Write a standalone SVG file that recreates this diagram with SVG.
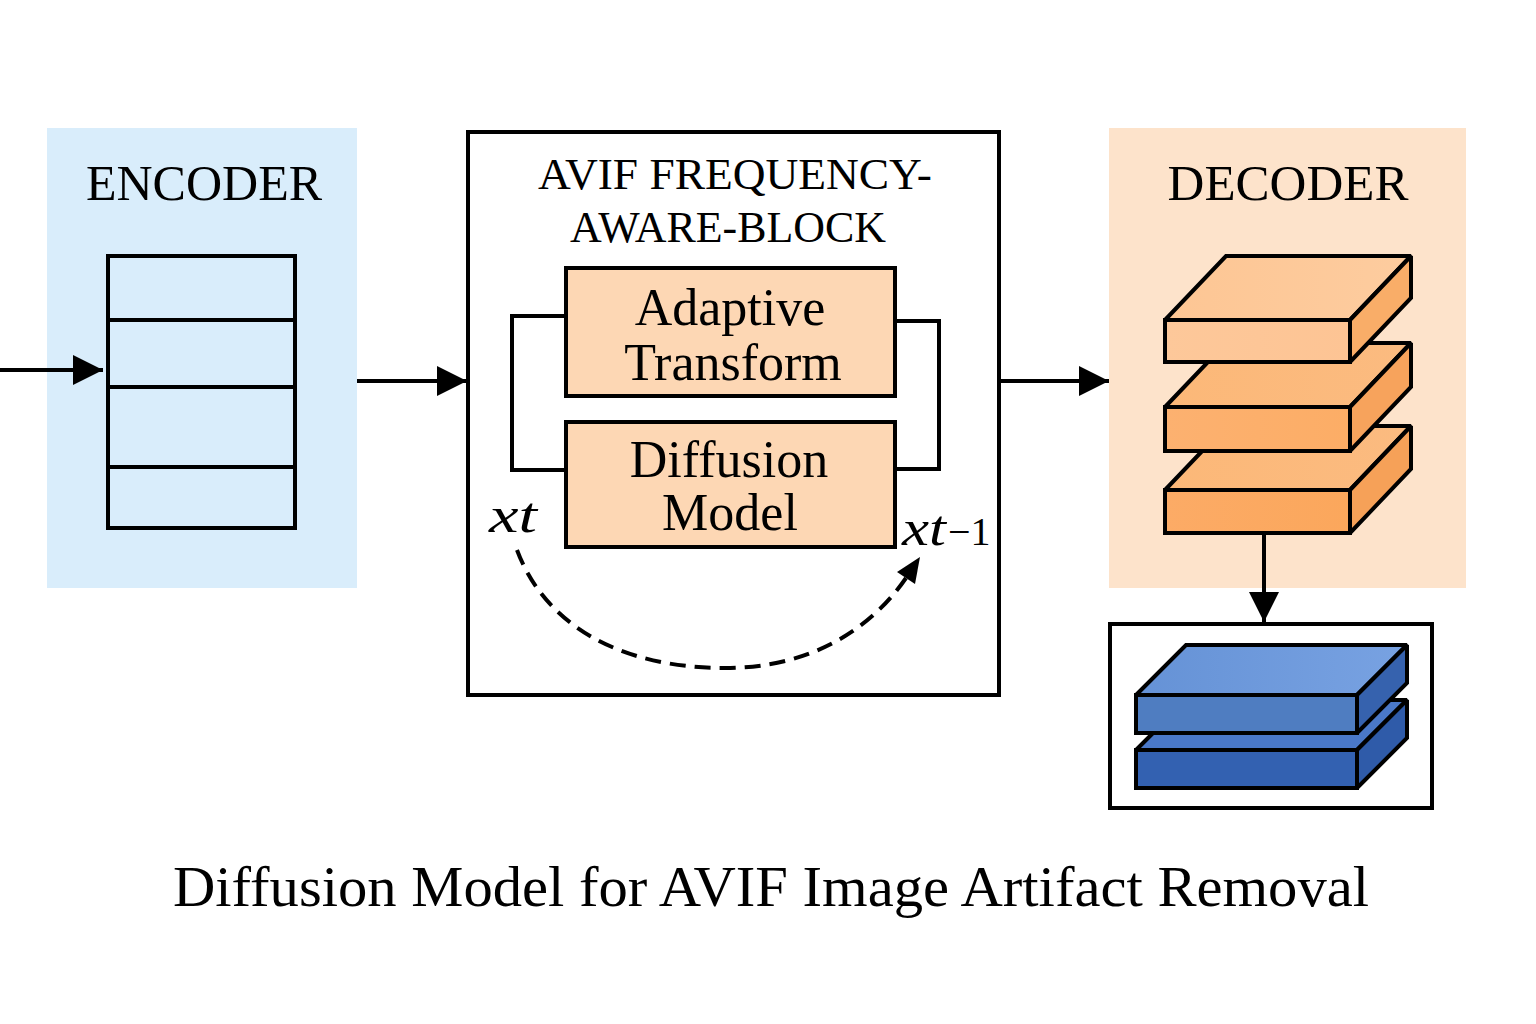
<svg xmlns="http://www.w3.org/2000/svg" width="1536" height="1024" viewBox="0 0 1536 1024">
<style>
  text { font-family: "Liberation Serif", "Times New Roman", serif; fill: #000; }
  .ln { fill: none; stroke: #000; stroke-width: 4; }
  .box { stroke: #000; stroke-width: 4; }
  .slab { stroke: #000; stroke-width: 4; stroke-linejoin: miter; stroke-miterlimit: 2.5; }
  .it { font-style: italic; }
</style>
<defs>
  <marker id="ah" markerUnits="userSpaceOnUse" markerWidth="30" markerHeight="30" viewBox="0 0 28 28" refX="28" refY="14" orient="auto">
    <path d="M0,0 L28,14 L0,28 Z" fill="#000"/>
  </marker>
  <linearGradient id="oTop1" x1="0" y1="0" x2="1" y2="0"><stop offset="0" stop-color="#fdc694"/><stop offset="1" stop-color="#fdcc9f"/></linearGradient>
  <linearGradient id="oTop2" x1="0" y1="0" x2="1" y2="0"><stop offset="0" stop-color="#fcb878"/><stop offset="1" stop-color="#fbbb80"/></linearGradient>
  <linearGradient id="oFront1" x1="0" y1="0" x2="1" y2="0"><stop offset="0" stop-color="#fdc89a"/><stop offset="1" stop-color="#fdc494"/></linearGradient>
  <linearGradient id="oFront2" x1="0" y1="0" x2="1" y2="0"><stop offset="0" stop-color="#fcb170"/><stop offset="1" stop-color="#fcad66"/></linearGradient>
  <linearGradient id="oFront3" x1="0" y1="0" x2="1" y2="0"><stop offset="0" stop-color="#fcab66"/><stop offset="1" stop-color="#fba75c"/></linearGradient>
  <linearGradient id="bTop" x1="0" y1="0" x2="1" y2="0"><stop offset="0" stop-color="#6592d6"/><stop offset="1" stop-color="#78a2e2"/></linearGradient>
</defs>

<g id="encoder">
  <rect x="47" y="128" width="310" height="460" fill="#d9edfb"/>
  <text x="204" y="200" font-size="50" text-anchor="middle">ENCODER</text>
  <rect x="108" y="256" width="187" height="272" fill="#d9edfb" class="box"/>
  <line x1="108" y1="320" x2="295" y2="320" class="ln"/>
  <line x1="108" y1="387" x2="295" y2="387" class="ln"/>
  <line x1="108" y1="467" x2="295" y2="467" class="ln"/>
</g>

<g id="avif-block">
  <rect x="468" y="132" width="531" height="563" fill="#fff" class="box"/>
  <text x="538" y="189" font-size="44" textLength="394" lengthAdjust="spacingAndGlyphs">AVIF FREQUENCY-</text>
  <text x="570" y="242" font-size="44" textLength="316" lengthAdjust="spacingAndGlyphs">AWARE-BLOCK</text>
</g>

<g id="adaptive-transform">
  <rect x="566" y="268" width="329" height="128" fill="#fdd7b4" class="box"/>
  <text x="730" y="325" font-size="52" text-anchor="middle">Adaptive</text>
  <text x="733" y="380" font-size="52" text-anchor="middle">Transform</text>
</g>

<g id="diffusion-model">
  <rect x="566" y="422" width="329" height="125" fill="#fdd7b4" class="box"/>
  <text x="729" y="477" font-size="52" text-anchor="middle">Diffusion</text>
  <text x="730" y="530" font-size="52" text-anchor="middle">Model</text>
</g>

<g id="labels">
  <text x="489" y="532" font-size="50" class="it" textLength="48" lengthAdjust="spacingAndGlyphs">xt</text>
  <text x="902" y="545" font-size="50" class="it" textLength="44" lengthAdjust="spacingAndGlyphs">xt</text>
  <text x="948" y="545" font-size="40">−1</text>
</g>

<g id="decoder">
  <rect x="1109" y="128" width="357" height="460" fill="#fde3cb"/>
  <text x="1288" y="200" font-size="51" text-anchor="middle">DECODER</text>
  <polygon points="1165,490 1226,426 1411,426 1350,490" fill="url(#oTop2)" class="slab"/>
  <polygon points="1350,490 1411,426 1411,469 1350,533" fill="#f6a158" class="slab"/>
  <rect x="1165" y="490" width="185" height="43" fill="url(#oFront3)" class="slab"/>
  <polygon points="1165,407 1226,343 1411,343 1350,407" fill="url(#oTop2)" class="slab"/>
  <polygon points="1350,407 1411,343 1411,387 1350,451" fill="#f7a35c" class="slab"/>
  <rect x="1165" y="407" width="185" height="44" fill="url(#oFront2)" class="slab"/>
  <polygon points="1165,320 1226,256 1411,256 1350,320" fill="url(#oTop1)" class="slab"/>
  <polygon points="1350,320 1411,256 1411,298 1350,362" fill="#f9ad68" class="slab"/>
  <rect x="1165" y="320" width="185" height="42" fill="url(#oFront1)" class="slab"/>
</g>

<g id="output">
  <rect x="1110" y="624" width="322" height="184" fill="#fff" class="box"/>
  <polygon points="1136,750 1186,700 1407,700 1357,750" fill="#4a78c8" class="slab"/>
  <polygon points="1357,750 1407,700 1407,738 1357,788" fill="#2f5ba9" class="slab"/>
  <rect x="1136" y="750" width="221" height="38" fill="#3361b1" class="slab"/>
  <polygon points="1136,695 1186,645 1407,645 1357,695" fill="url(#bTop)" class="slab"/>
  <polygon points="1357,695 1407,645 1407,683 1357,733" fill="#3662ae" class="slab"/>
  <rect x="1136" y="695" width="221" height="38" fill="#4f7dc1" class="slab"/>
</g>

<g id="connectors">
  <line x1="0" y1="370" x2="103" y2="370" class="ln" marker-end="url(#ah)"/>
  <line x1="357" y1="381" x2="467" y2="381" class="ln" marker-end="url(#ah)"/>
  <line x1="1001" y1="381" x2="1109" y2="381" class="ln" marker-end="url(#ah)"/>
  <line x1="1264" y1="533" x2="1264" y2="622" class="ln" marker-end="url(#ah)"/>
  <path d="M566,316 H512 V470 H566" class="ln"/>
  <path d="M895,321 H939 V469 H895" class="ln"/>
  <path d="M517,550 C545,625 620,668 725,668 C810,668 870,630 906,578" class="ln" stroke-dasharray="16 9"/>
  <polygon points="920,557 897,572 915,584" fill="#000"/>
</g>

<g id="caption">
  <text x="771" y="906" font-size="58" text-anchor="middle" textLength="1196" lengthAdjust="spacingAndGlyphs">Diffusion Model for AVIF Image Artifact Removal</text>
</g>
</svg>
